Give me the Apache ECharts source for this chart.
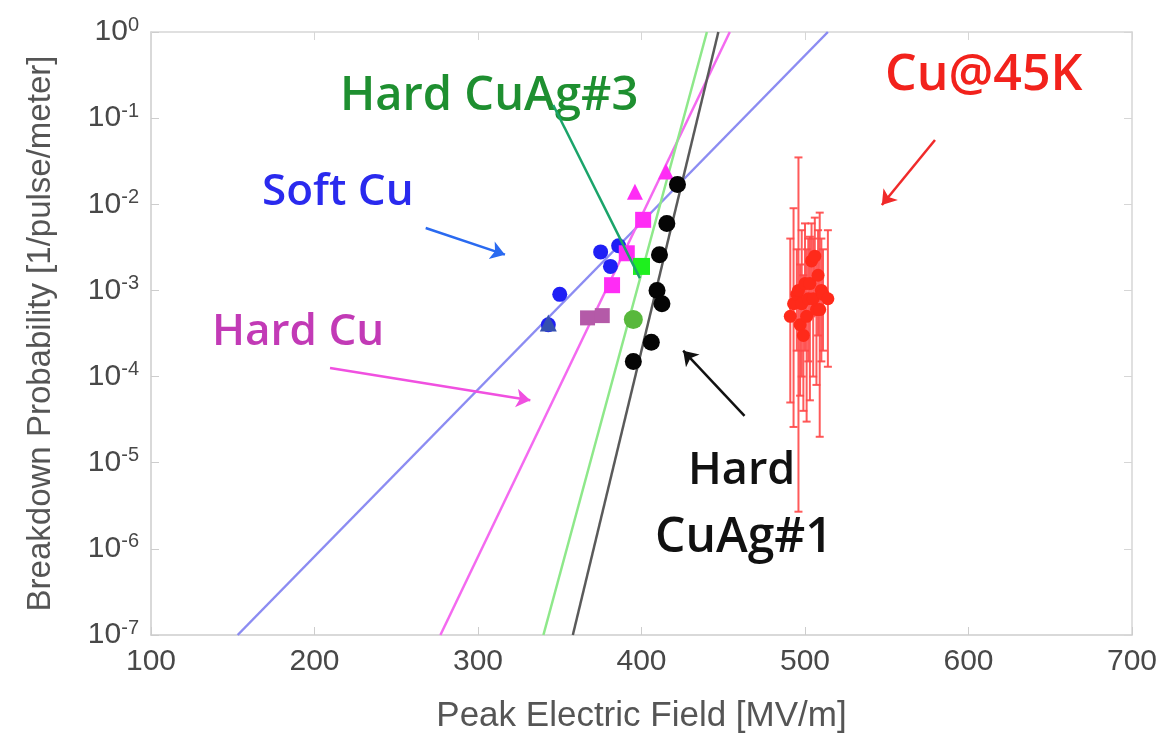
<!DOCTYPE html>
<html>
<head>
<meta charset="utf-8">
<script src="https://cdn.jsdelivr.net/npm/echarts@6/dist/echarts.min.js"></script>
<style>html,body{margin:0;padding:0;background:#fff}#c{width:1162px;height:741px}</style>
</head>
<body>
<div id="c"></div>
<script>
// ---- data ----
const xTicks = [100, 200, 300, 400, 500, 600, 700];
const yExponents = [-7, -6, -5, -4, -3, -2, -1, 0];

// Soft Cu measurements [field, BDR]
const softCu = [[343, 4.0e-4], [350, 9.0e-4], [375, 2.8e-3], [381, 1.9e-3], [386, 3.3e-3]];
const softCuTri = [[343, 4.2e-4]];
// Hard Cu measurements
const hardCuSq = [[382, 1.15e-3], [391, 2.7e-3], [401, 6.6e-3]];
const hardCuTri = [[396, 1.4e-2], [415, 2.4e-2]];
const hardCuOld = [[367, 4.8e-4], [376, 5.1e-4]];
// Hard CuAg#3
const cuAg3Bright = [[400, 1.9e-3]];
const cuAg3Olive = [[395, 4.6e-4]];
// Hard CuAg#1
const cuAg1 = [[395, 1.5e-4], [406, 2.5e-4], [409.5, 1.0e-3], [412.5, 7.0e-4], [411, 2.6e-3], [415.5, 6.0e-3], [422, 1.7e-2]];
// Cu@45K: [field, BDR, low, high]
const cu45K = [
  [491, 5e-4, 5e-5, 4e-3], [493, 7e-4, 2.6e-5, 9e-3], [495, 9e-4, 2e-4, 3e-3],
  [496, 1.0e-3, 2.7e-6, 3.5e-2], [497, 4e-4, 6e-5, 2e-3], [498, 7e-4, 1e-4, 5e-3],
  [499, 3e-4, 4e-5, 1.5e-3], [500, 1.2e-3, 2e-4, 6e-3], [501, 5e-4, 3e-5, 3e-3],
  [502, 8e-4, 1.5e-4, 4e-3], [503, 1.2e-3, 5.3e-5, 4.2e-3], [504, 2.2e-3, 5e-4, 6e-3],
  [505, 8e-4, 1e-4, 4e-3], [506, 2.5e-3, 6e-4, 7e-3], [507, 6e-4, 8e-5, 2.5e-3],
  [508, 1.5e-3, 3e-4, 5e-3], [509, 6e-4, 2e-5, 8e-3], [510, 1.0e-3, 1.5e-4, 4e-3],
  [511, 9e-4, 2e-4, 3e-3], [514, 8e-4, 1.3e-4, 5e-3]
];
// Fit lines (two endpoints each)
const fitSoftCu = [[153, 1e-7], [514, 1]];
const fitHardCu = [[277, 1e-7], [454, 1]];
const fitCuAg3 = [[340, 1e-7], [440, 1]];
const fitCuAg1 = [[358, 1e-7], [447, 1]];
// Annotation arrows [from, to] in data units
const arrowSoft = [[268, 5.3e-3], [316.5, 2.6e-3]];
const arrowHard = [[209.5, 1.26e-4], [332, 5.3e-5]];
const lineCuAg3 = [[346, 0.142], [399, 1.39e-3]];
const arrowCuAg1 = [[463, 3.5e-5], [425.5, 2.0e-4]];
const arrow45K = [[579.5, 0.0557], [547, 9.8e-3]];

const chart = echarts.init(document.getElementById('c'), null, {renderer: 'canvas'});
const FONT = '"Liberation Sans", Arial, sans-serif';
const LBL = '"Open Sans", "Noto Sans", sans-serif';

function arrowSeries(pts, color, arrow) {
  return {
    type: 'lines', coordinateSystem: 'cartesian2d', z: 5,
    symbol: ['none', arrow ? 'arrow' : 'none'], symbolSize: 14,
    lineStyle: {color: color, width: 2.5, opacity: 1},
    data: [{coords: pts}]
  };
}
function fitSeries(pts, color) {
  return {type: 'line', data: pts, symbol: 'none', lineStyle: {color: color, width: 2.5}, z: 2, silent: true};
}
function scat(pts, color, symbol, size, z) {
  return {type: 'scatter', data: pts, symbol: symbol, symbolSize: size, itemStyle: {color: color, opacity: 1}, z: z || 4};
}

const option = {
  backgroundColor: '#ffffff',
  animation: false,
  grid: {left: 151, right: 30, top: 32, bottom: 106, show: false},
  xAxis: [{
    type: 'value', min: 100, max: 700, interval: 100,
    name: 'Peak Electric Field [MV/m]', nameLocation: 'middle', nameGap: 64,
    nameTextStyle: {fontFamily: FONT, fontSize: 35, color: '#555'},
    axisLine: {show: true, onZero: false, lineStyle: {color: '#cdcdcd', width: 1.5}},
    axisTick: {show: true, inside: true, length: 8, lineStyle: {color: '#cdcdcd'}},
    axisLabel: {fontFamily: FONT, fontSize: 30, color: '#484848', margin: 12,
      formatter: v => xTicks.includes(v) ? String(v) : ''},
    splitLine: {show: false}
  }, {
    type: 'value', min: 100, max: 700, interval: 100, position: 'top',
    axisLine: {show: true, lineStyle: {color: '#d6d6d6', width: 1.5}},
    axisTick: {show: true, inside: true, length: 8, lineStyle: {color: '#d6d6d6'}},
    axisLabel: {show: false}, splitLine: {show: false}
  }],
  yAxis: [{
    type: 'log', logBase: 10, min: 1e-7, max: 1,
    name: 'Breakdown Probability [1/pulse/meter]', nameLocation: 'middle', nameGap: 94,
    nameTextStyle: {fontFamily: FONT, fontSize: 33, color: '#555'},
    axisLine: {show: true, lineStyle: {color: '#cdcdcd', width: 1.5}},
    axisTick: {show: true, inside: true, length: 8, lineStyle: {color: '#cdcdcd'}},
    axisLabel: {
      margin: 12, color: '#484848',
      formatter: v => { const e = Math.round(Math.log10(v)); return yExponents.includes(e) ? '10{s|' + e + '}' : ''; },
      rich: {s: {fontFamily: FONT, fontSize: 20, color: '#484848', verticalAlign: 'top', padding: [0, 0, 14, 0]}},
      fontFamily: FONT, fontSize: 30
    },
    splitLine: {show: false}
  }, {
    type: 'log', logBase: 10, min: 1e-7, max: 1, position: 'right',
    axisLine: {show: true, lineStyle: {color: '#d6d6d6', width: 1.5}},
    axisTick: {show: true, inside: true, length: 8, lineStyle: {color: '#d6d6d6'}},
    axisLabel: {show: false}, splitLine: {show: false}
  }],
  series: [
    fitSeries(fitSoftCu, '#8c8cf2'),
    fitSeries(fitHardCu, '#f46af0'),
    fitSeries(fitCuAg3, '#8ee88a'),
    fitSeries(fitCuAg1, '#5a5a5a'),
    {
      type: 'custom', data: cu45K, z: 3,
      encode: {x: 0, y: [1, 2, 3]},
      renderItem: function (params, api) {
        const lo = api.coord([api.value(0), api.value(2)]);
        const hi = api.coord([api.value(0), api.value(3)]);
        const c = {stroke: '#ff4848', lineWidth: 2, opacity: 0.9};
        return {type: 'group', children: [
          {type: 'line', shape: {x1: lo[0], y1: lo[1], x2: hi[0], y2: hi[1]}, style: c},
          {type: 'line', shape: {x1: lo[0] - 4, y1: lo[1], x2: lo[0] + 4, y2: lo[1]}, style: c},
          {type: 'line', shape: {x1: hi[0] - 4, y1: hi[1], x2: hi[0] + 4, y2: hi[1]}, style: c}
        ]};
      }
    },
    scat(cu45K.map(d => [d[0], d[1]]), '#ff2a1a', 'circle', 13),
    scat(softCu, '#1f1ff5', 'circle', 15),
    scat(softCuTri, '#3550b0', 'triangle', 17),
    scat(hardCuOld, '#b45aa8', 'rect', 15),
    scat(hardCuSq, '#ff2cf5', 'rect', 16),
    scat(hardCuTri, '#ff2cf5', 'triangle', 16),
    scat(cuAg3Olive, '#58b83c', 'circle', 19),
    scat(cuAg3Bright, '#1ef01e', 'rect', 17),
    scat(cuAg1, '#050505', 'circle', 17),
    arrowSeries(arrowSoft, '#2a6af0', true),
    arrowSeries(arrowHard, '#f050e0', true),
    arrowSeries(lineCuAg3, '#1aa46a', false),
    arrowSeries(arrowCuAg1, '#111111', true),
    arrowSeries(arrow45K, '#f02a2a', true)
  ],
  graphic: [
    {type: 'text', left: 340, top: 73, style: {text: 'Hard CuAg#3', font: '600 47px ' + LBL, fill: '#1e8f30'}},
    {type: 'text', left: 885, top: 51, style: {text: 'Cu@45K', font: '600 50px ' + LBL, fill: '#f2221c'}},
    {type: 'text', left: 262, top: 170, style: {text: 'Soft Cu', font: '600 44px ' + LBL, fill: '#2a2aee'}},
    {type: 'text', left: 212, top: 310, style: {text: 'Hard Cu', font: '600 44px ' + LBL, fill: '#c23ab6'}},
    {type: 'text', left: 688, top: 449, style: {text: 'Hard', font: '600 45px ' + LBL, fill: '#111'}},
    {type: 'text', left: 655, top: 514, style: {text: 'CuAg#1', font: '600 48px ' + LBL, fill: '#111'}}
  ]
};
chart.setOption(option);
</script>
</body>
</html>
